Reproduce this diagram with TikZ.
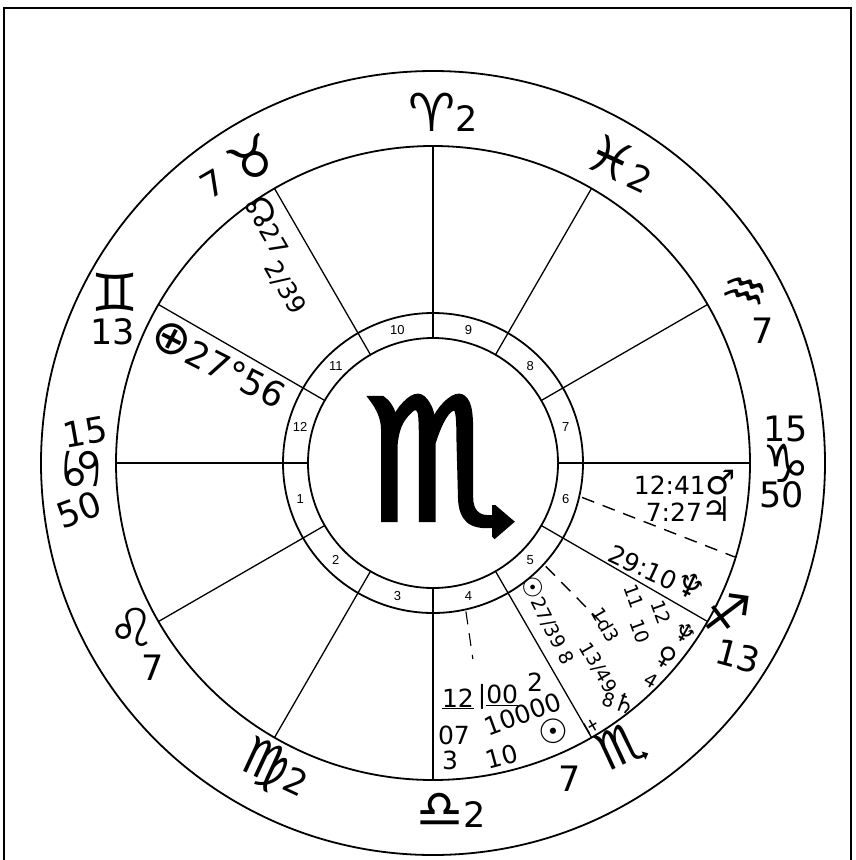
\documentclass[tikz,border=0pt]{standalone}
\usepackage{fontspec}
\usepackage{graphicx}
\setmainfont{DejaVu Sans}
\newfontfamily\numfont{Liberation Sans}
\newfontfamily\heavyfont{DejaVu Sans}[FakeBold=2.5]
\usetikzlibrary{calc}

% bigger glyphs for signs and planets
\newcommand{\zod}[1]{\scalebox{1.5}{#1}}
\newcommand{\pl}[1]{\scalebox{1.35}{#1}}

\tikzset{
  hand/.style={font=\fontsize{35}{37}\selectfont, inner sep=0pt},
  handsmall/.style={font=\fontsize{25}{27}\selectfont, inner sep=0pt},
  handtiny/.style={font=\fontsize{19}{21}\selectfont, inner sep=0pt},
  housenum/.style={font=\numfont\fontsize{13}{13}\selectfont, inner sep=0pt},
  wheel/.style={line width=1.8pt},
  cusp/.style={line width=1.3pt},
  aspect/.style={line width=1.4pt, dash pattern=on 13pt off 9pt},
}

\begin{document}
\begin{tikzpicture}[x=1pt,y=-1pt]
  \useasboundingbox (0,0) rectangle (855,860);
  % page frame
  \draw[line width=1.1pt] (4,860) -- (4,8) -- (851,8) -- (851,860);

  % wheel: sign band, house circle, number ring
  \coordinate (c) at (433,463);
  \draw[wheel] (c) circle (392pt);
  \draw[wheel] (c) circle (317pt);
  \draw[wheel] (c) circle (150pt);
  \draw[wheel] (c) circle (125pt);
  \foreach \a in {0,30,...,330}
    \draw[cusp] ($(c)+(\a:125pt)$) -- ($(c)+(\a:317pt)$);
  \foreach \h in {1,...,12}
    \node[housenum] (h\h) at ($(c)+({165+30*\h}:137.5pt)$) {\h};

  % sun sign in the middle
  \node[inner sep=0pt, font=\heavyfont\fontsize{170}{170}\selectfont] (sun) at (441,466) {♏};

  % cusp signs in the outer band
  \node[hand] (aries) at (443,112) {\zod{♈}2};
  \node[hand, rotate=-25] (pisces) at (621,163) {\zod{♓}2};
  \node[hand, rotate=-15] (aquarius) at (744,294) {\zod{♒}};
  \node[hand] (aqdeg) at (763,331) {7};
  \node[hand] (capdeg) at (786,429) {15};
  \node[hand] (capricorn) at (786,463) {\zod{♑}};
  \node[hand] (capmin) at (782,495) {50};
  \node[hand, rotate=-8] (sagittarius) at (727,613) {\zod{♐}};
  \node[hand, rotate=-15] (sagdeg) at (738,656) {13};
  \node[hand, rotate=25] (scorpio) at (622,747) {\zod{♏}};
  \node[hand] (scodeg) at (570,779) {7};
  \node[hand] (libra) at (451,810) {\zod{♎}2};
  \node[hand, rotate=-25] (virgo) at (275,770) {\zod{♍}2};
  \node[hand] (leo) at (132,627) {\zod{♌}};
  \node[hand] (leodeg) at (153,668) {7};
  \node[hand, rotate=10] (candeg) at (85,432) {15};
  \node[hand, rotate=90] (cancer) at (83,469) {\zod{♋}};
  \node[hand, rotate=20] (canmin) at (79,510) {50};
  \node[hand] (gemini) at (115,292) {\zod{♊}};
  \node[hand] (gemdeg) at (113,332) {13};
  \node[hand, rotate=30] (taurus) at (252,159) {\zod{♉}};
  \node[hand, rotate=30] (taudeg) at (213,184) {7};

  % planets written in the houses
  \node[handsmall, rotate=-60] (northnode) at (270,225) {\pl{☊}27};
  \node[handsmall, rotate=-60] (nodemin) at (285,288) {2/39};
  \node[hand, rotate=-27] (fortune) at (219,363) {\pl{⊕}27°56};
  \node[handsmall] (mars) at (685,483) {12:41\pl{♂}};
  \node[handsmall] (jupiter) at (689,509) {7:27\pl{♃}};
  \node[handsmall, rotate=-25] (neptune) at (658,571) {29:10\pl{♆}};

  % house 5
  \node[handtiny, rotate=-63] (sunpos) at (549,620) {\pl{☉}27/39 8};
  \node[handtiny, rotate=-60] (five1) at (606,625) {1d3};
  \node[handtiny, rotate=-60] (five2) at (598,668) {13/49};
  \node[handtiny, rotate=-20] (saturn) at (620,702) {8\pl{♄}};
  \node[handtiny, rotate=-60] (five3) at (592,726) {±};
  \node[handtiny, rotate=-70] (five4) at (634,596) {11};
  \node[handtiny, rotate=-70] (five5) at (640,631) {10};
  \node[handtiny, rotate=-70] (five6) at (661,612) {12};
  \node[handtiny, rotate=-30] (five7) at (685,633) {\pl{♆}};
  \node[handtiny, rotate=-30] (venus) at (667,657) {\pl{♀}};
  \node[handtiny, rotate=-30] (five8) at (651,681) {4};

  % house 4
  \node[handsmall] (four1) at (458,699) {\underline{12}};
  \node[handsmall] (four2) at (498,697) {|\underline{00}};
  \node[handsmall] (four3) at (535,682) {2};
  \node[handsmall] (four4) at (454,735) {07};
  \node[handsmall, rotate=20] (four5) at (523,714) {10000};
  \node[handsmall] (four6) at (450,760) {3};
  \node[handsmall, rotate=15] (four7) at (502,757) {10};
  \node[handsmall, rotate=30] (four8) at (553,731) {\pl{☉}};

  % dashed aspect lines
  \coordinate (d1) at ($(c)+(-13:153pt)$);
  \coordinate (d2) at ($(c)+(-17.3:316pt)$);
  \draw[aspect] (d1) -- (d2);
  \coordinate (d3) at ($(c)+(-77.5:152pt)$);
  \coordinate (d4) at ($(c)+(-78.5:200pt)$);
  \draw[aspect, line width=1.1pt] (d3) -- (d4);
  \coordinate (d5) at ($(c)+(-42.5:153pt)$);
  \coordinate (d6) at ($(c)+(-43.5:235pt)$);
  \draw[aspect] (d5) -- (d6);
\end{tikzpicture}
\end{document}
